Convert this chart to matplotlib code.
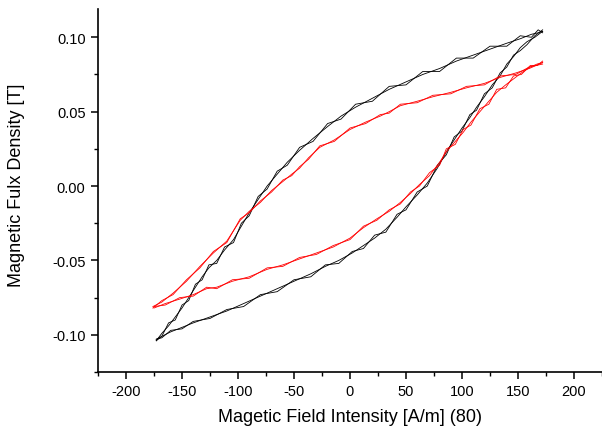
import matplotlib
matplotlib.use("Agg")
import matplotlib.pyplot as plt
from matplotlib.ticker import MultipleLocator, FormatStrFormatter

plt.rcParams['font.family'] = ['Liberation Sans', 'DejaVu Sans']
plt.rcParams['axes.unicode_minus'] = False

# black loop (field in A/m, flux density in T), two recorded cycles
blk_down_h = [172, 165, 158, 152, 146, 140, 134, 127, 120, 113, 107, 100, 93, 86, 78, 69, 60,
              50, 42, 32, 22, 12, 2, -10, -22, -35, -50, -65, -80, -95, -110, -125, -140,
              -150, -160, -168, -173]
blk_down_b = [0.104, 0.100, 0.097, 0.093, 0.087, 0.082, 0.074, 0.068, 0.060, 0.053, 0.046,
              0.039, 0.031, 0.023, 0.012, 0.002, -0.006, -0.014, -0.021, -0.029, -0.035,
              -0.040, -0.045, -0.050, -0.054, -0.059, -0.064, -0.069, -0.074, -0.079, -0.084,
              -0.088, -0.092, -0.095, -0.098, -0.101, -0.104]
blk_down_b2 = [0.105, 0.101, 0.095, 0.091, 0.088, 0.080, 0.076, 0.066, 0.062, 0.051, 0.048,
               0.037, 0.033, 0.021, 0.014, 0.000, -0.004, -0.016, -0.019, -0.031, -0.033,
               -0.042, -0.044, -0.052, -0.053, -0.061, -0.063, -0.071, -0.073, -0.081, -0.083,
               -0.089, -0.091, -0.096, -0.097, -0.102, -0.103]
blk_up_h = [-173, -168, -162, -156, -150, -144, -138, -132, -126, -119, -112, -104, -97, -90,
            -82, -74, -65, -56, -45, -33, -20, -8, 5, 20, 35, 50, 65, 80, 95, 110, 125, 140,
            152, 162, 168, 172]
blk_up_b = [-0.104, -0.099, -0.094, -0.088, -0.082, -0.075, -0.068, -0.061, -0.055, -0.050,
            -0.043, -0.036, -0.027, -0.018, -0.009, 0.000, 0.008, 0.016, 0.024, 0.032, 0.040,
            0.047, 0.053, 0.059, 0.065, 0.070, 0.075, 0.079, 0.084, 0.088, 0.092, 0.096,
            0.099, 0.102, 0.103, 0.104]
blk_up_b2 = [-0.103, -0.101, -0.092, -0.090, -0.080, -0.077, -0.066, -0.063, -0.053, -0.052,
             -0.041, -0.038, -0.025, -0.020, -0.007, -0.002, 0.010, 0.014, 0.026, 0.030, 0.042,
             0.045, 0.055, 0.057, 0.067, 0.068, 0.077, 0.077, 0.086, 0.086, 0.094, 0.094,
             0.101, 0.100, 0.105, 0.103]

# red loop, two recorded cycles
red_down_h = [172, 160, 148, 134, 120, 104, 90, 74, 60, 45, 35, 27, 14, 0, -14, -27, -37, -45,
              -52, -60, -70, -80, -90, -98, -110, -122, -134, -146, -158, -168, -176]
red_down_b = [0.083, 0.079, 0.076, 0.073, 0.069, 0.066, 0.063, 0.060, 0.057, 0.054, 0.050,
              0.047, 0.043, 0.038, 0.031, 0.026, 0.019, 0.012, 0.008, 0.003, -0.003, -0.011,
              -0.017, -0.023, -0.037, -0.045, -0.054, -0.064, -0.072, -0.078, -0.081]
red_down_b2 = [0.082, 0.080, 0.075, 0.074, 0.068, 0.067, 0.062, 0.061, 0.056, 0.055, 0.049,
               0.048, 0.042, 0.039, 0.030, 0.027, 0.018, 0.013, 0.007, 0.004, -0.004, -0.010,
               -0.018, -0.022, -0.038, -0.044, -0.055, -0.063, -0.073, -0.077, -0.082]
red_up_h = [-175, -165, -152, -140, -128, -119, -105, -90, -74, -60, -45, -30, -15, 0, 12, 24,
            35, 45, 54, 62, 71, 80, 86, 94, 101, 108, 116, 124, 131, 139, 146, 153, 161,
            167, 172]
red_up_b = [-0.082, -0.079, -0.076, -0.073, -0.069, -0.068, -0.064, -0.061, -0.056, -0.053,
            -0.049, -0.045, -0.041, -0.035, -0.028, -0.022, -0.017, -0.011, -0.005, 0.001,
            0.007, 0.016, 0.023, 0.030, 0.036, 0.043, 0.050, 0.057, 0.063, 0.068, 0.072,
            0.076, 0.080, 0.082, 0.083]
red_up_b2 = [-0.081, -0.080, -0.075, -0.074, -0.068, -0.069, -0.063, -0.062, -0.055, -0.054,
             -0.048, -0.046, -0.040, -0.036, -0.027, -0.023, -0.016, -0.012, -0.004, 0.000,
             0.009, 0.014, 0.025, 0.028, 0.038, 0.041, 0.052, 0.055, 0.065, 0.066, 0.074,
             0.075, 0.081, 0.081, 0.084]

fig = plt.figure(figsize=(6.02, 4.31), dpi=100)
ax = fig.add_axes([98 / 602, 58 / 431, 504 / 602, 363 / 431])

for b in (blk_down_b, blk_down_b2):
    ax.plot(blk_down_h, b, color='black', lw=0.6)
for b in (blk_up_b, blk_up_b2):
    ax.plot(blk_up_h, b, color='black', lw=0.6)
for b in (red_down_b, red_down_b2):
    ax.plot(red_down_h, b, color='red', lw=0.6)
for b in (red_up_b, red_up_b2):
    ax.plot(red_up_h, b, color='red', lw=0.6)

ax.set_xlim(-225, 225)
ax.set_ylim(-0.125, 0.119)
ax.xaxis.set_major_locator(MultipleLocator(50))
ax.xaxis.set_minor_locator(MultipleLocator(25))
ax.yaxis.set_major_locator(MultipleLocator(0.05))
ax.yaxis.set_minor_locator(MultipleLocator(0.025))
ax.yaxis.set_major_formatter(FormatStrFormatter('%.2f'))

for s in ['top', 'right']:
    ax.spines[s].set_visible(False)
for s in ['left', 'bottom']:
    ax.spines[s].set_linewidth(1.2)
ax.tick_params(which='major', direction='out', length=5, width=1.1, labelsize=10.5, pad=4)
ax.tick_params(which='minor', direction='out', length=3, width=1.0)

ax.set_xlabel('Magetic Field Intensity [A/m] (80)', fontsize=13, labelpad=7)
ax.set_ylabel('Magnetic Fulx Density [T]', fontsize=13)
ax.yaxis.set_label_coords(-0.145, 0.518)

fig.savefig('out.png', dpi=100)
